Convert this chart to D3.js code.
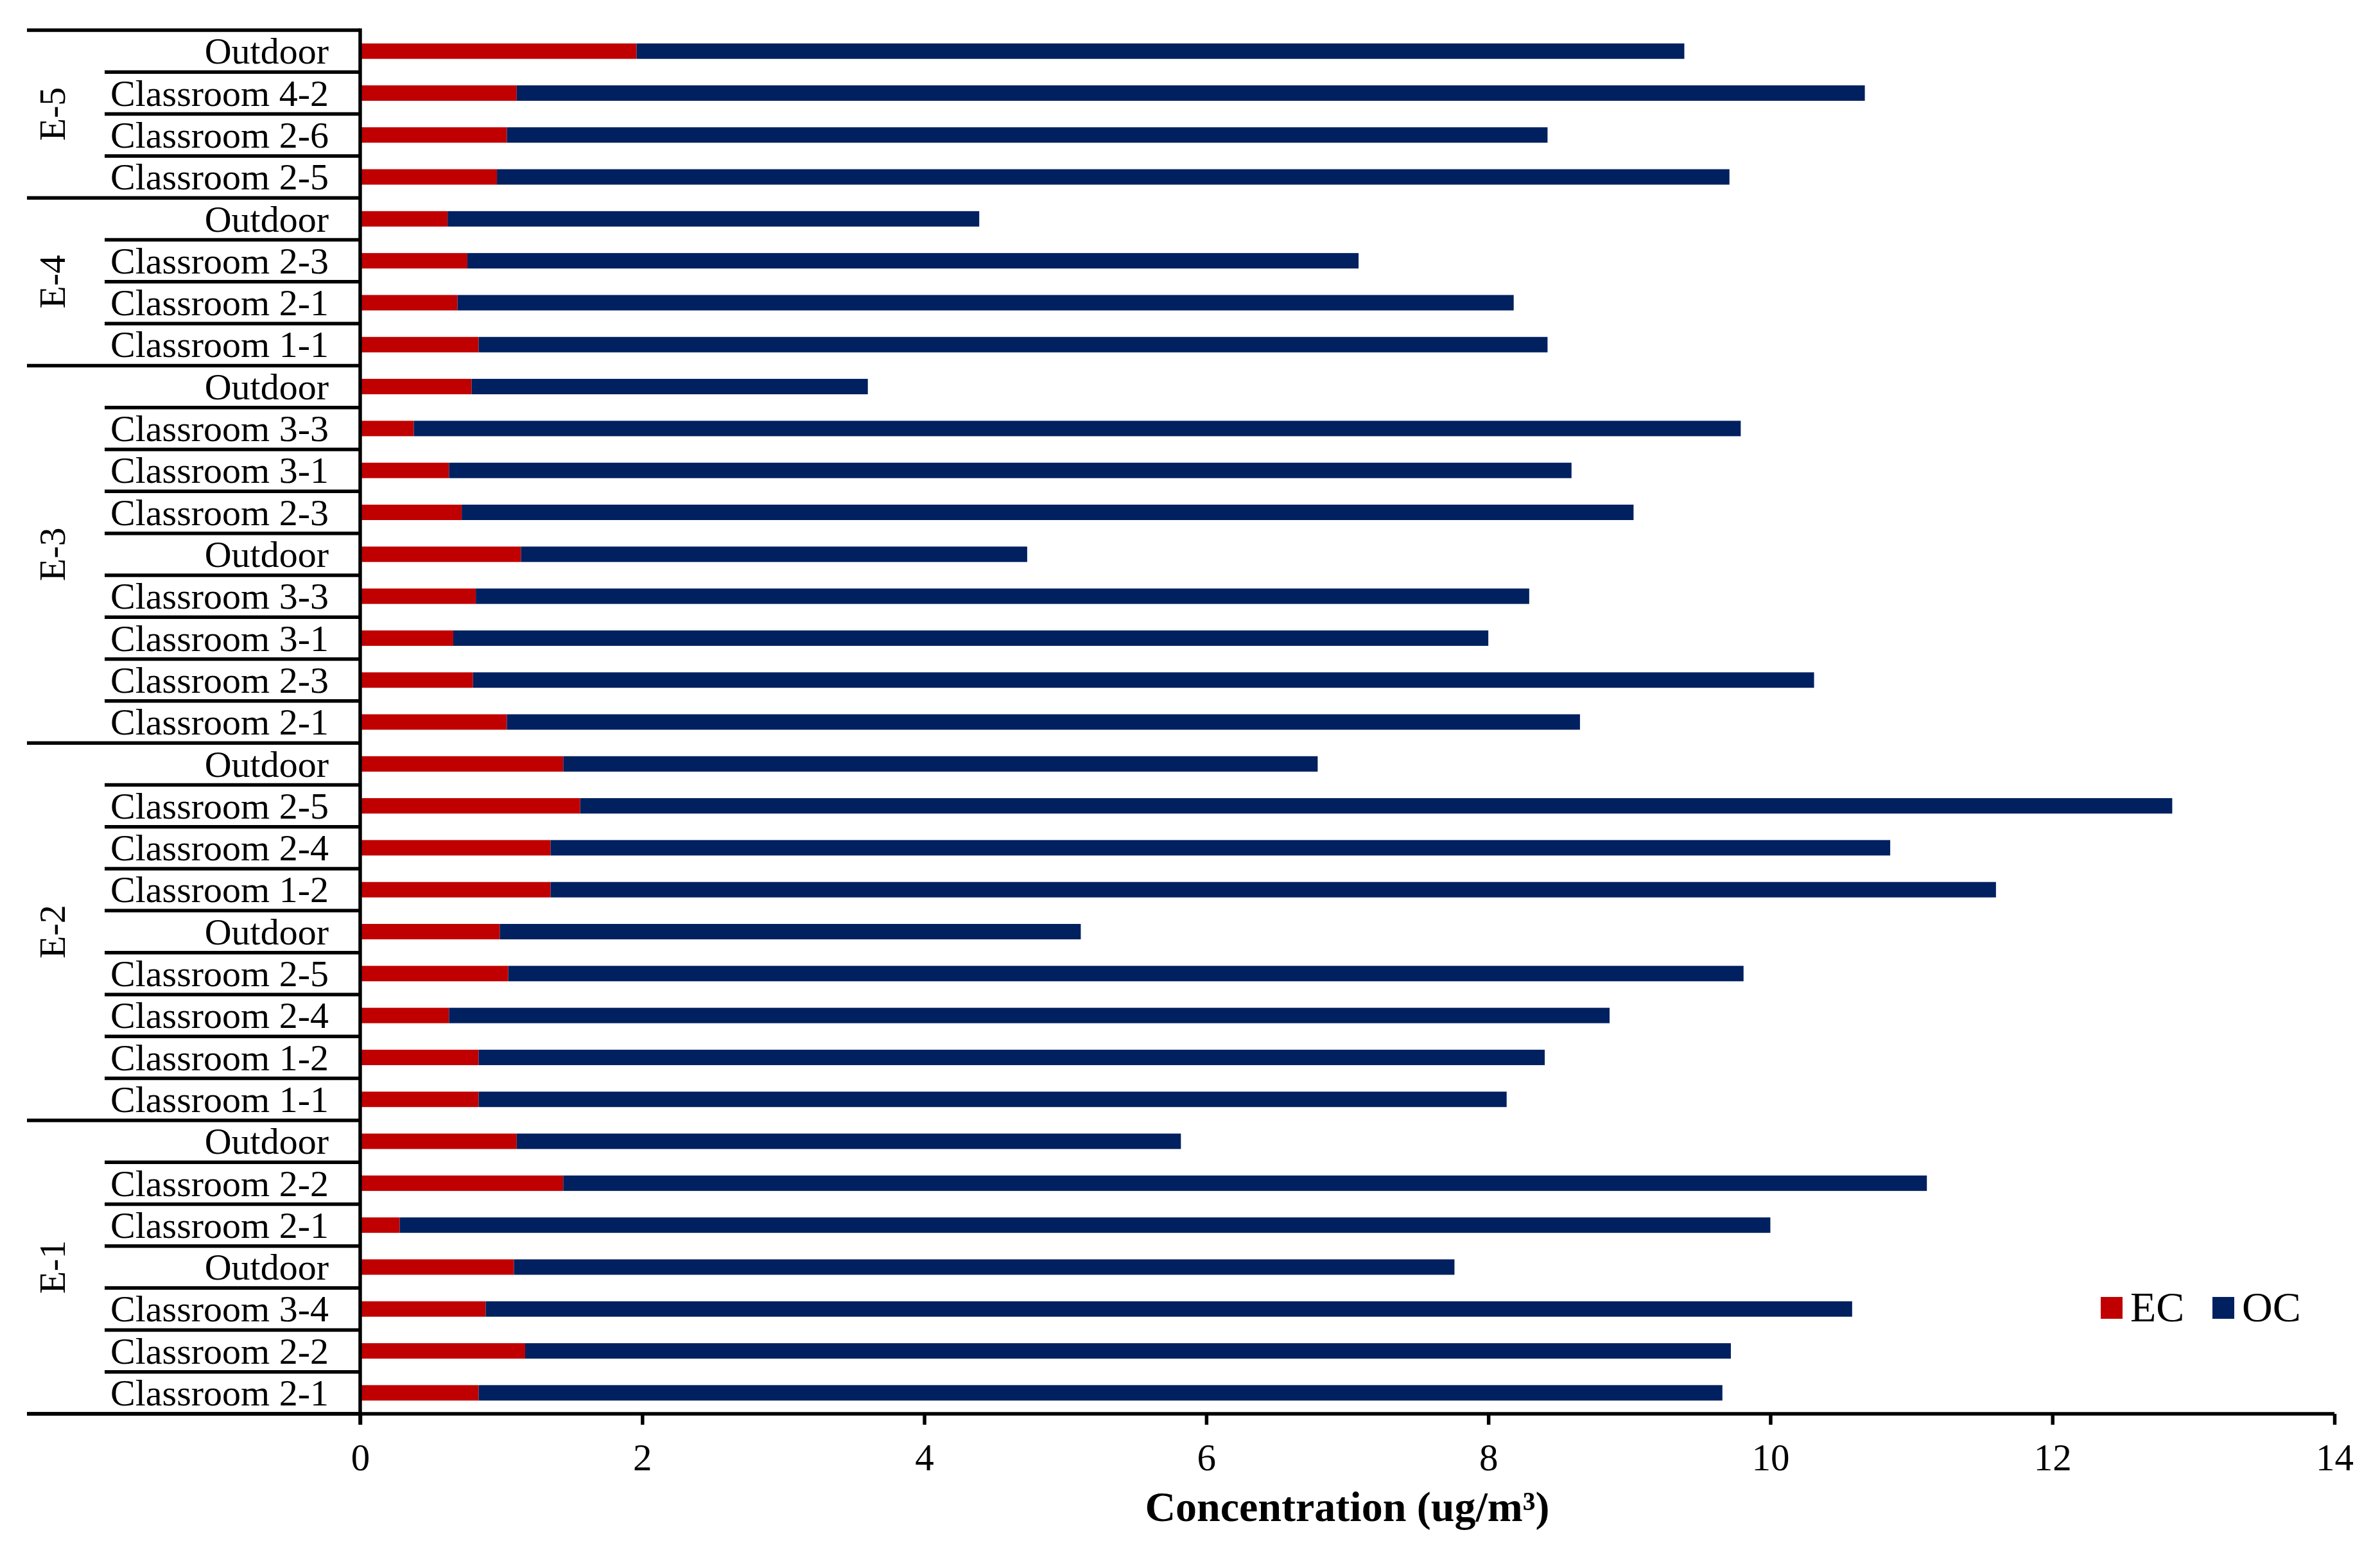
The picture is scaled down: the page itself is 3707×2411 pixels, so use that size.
<!DOCTYPE html>
<html>
<head>
<meta charset="utf-8">
<script src="https://cdn.jsdelivr.net/npm/d3@7"></script>
<style>
  html, body { margin: 0; padding: 0; background: #ffffff; }
  svg { display: block; }
  text { font-family: "Liberation Serif", "Times New Roman", serif; fill: #000; }
</style>
</head>
<body>
<svg id="chart" width="3707" height="2411"></svg>
<script>
// ---- data (bottom row first, as in the source chart) ----
const sites = [
  "Classroom 2-1", "Classroom 2-2", "Classroom 3-4", "Outdoor", "Classroom 2-1", "Classroom 2-2", "Outdoor",
  "Classroom 1-1", "Classroom 1-2", "Classroom 2-4", "Classroom 2-5", "Outdoor", "Classroom 1-2", "Classroom 2-4", "Classroom 2-5", "Outdoor",
  "Classroom 2-1", "Classroom 2-3", "Classroom 3-1", "Classroom 3-3", "Outdoor", "Classroom 2-3", "Classroom 3-1", "Classroom 3-3", "Outdoor",
  "Classroom 1-1", "Classroom 2-1", "Classroom 2-3", "Outdoor",
  "Classroom 2-5", "Classroom 2-6", "Classroom 4-2", "Outdoor"
];
const siteGroup = [
  "E-1", "E-1", "E-1", "E-1", "E-1", "E-1", "E-1",
  "E-2", "E-2", "E-2", "E-2", "E-2", "E-2", "E-2", "E-2", "E-2",
  "E-3", "E-3", "E-3", "E-3", "E-3", "E-3", "E-3", "E-3", "E-3",
  "E-4", "E-4", "E-4", "E-4",
  "E-5", "E-5", "E-5", "E-5"
];
const groups = ["E-1", "E-2", "E-3", "E-4", "E-5"];
const ecValues = [
  0.84, 1.17, 0.89, 1.09, 0.28, 1.44, 1.11,
  0.84, 0.84, 0.63, 1.05, 0.99, 1.35, 1.35, 1.56, 1.44,
  1.04, 0.80, 0.66, 0.82, 1.14, 0.72, 0.63, 0.38, 0.79,
  0.84, 0.69, 0.76, 0.62,
  0.97, 1.04, 1.11, 1.96
];
const ocValues = [
  8.82, 8.55, 9.69, 6.67, 9.72, 9.67, 4.71,
  7.29, 7.56, 8.23, 8.76, 4.12, 10.25, 9.50, 11.29, 5.35,
  7.61, 9.51, 7.34, 7.47, 3.59, 8.31, 7.96, 9.41, 2.81,
  7.58, 7.49, 6.32, 3.77,
  8.74, 7.38, 9.56, 7.43
];
const seriesNames = ["EC", "OC"];
const seriesColors = ["#C00000", "#002060"];
const xTicks = [0, 2, 4, 6, 8, 10, 12, 14];
const xTitle = "Concentration (ug/m³)";

(function () {
  // ---- layout ----
  const svg = d3.select("#chart");
  const axisX = 561;        // category axis position
  const outerLeft = 42;     // outer edge of group separator lines
  const innerLeft = 163;    // outer edge of row separator lines
  const plotTop = 47, plotBottom = 2202, plotRight = 3636;
  const lineW = 5.5;
  const fontSize = 58;

  const x = d3.scaleLinear().domain([0, 14]).range([axisX, plotRight]);
  const y = d3.scaleBand()
    .domain(d3.range(sites.length))
    .range([plotBottom, plotTop])
    .paddingInner(0.632)
    .paddingOuter(0.316);
  const step = y.step();
  const cy = i => y(i) + y.bandwidth() / 2;

  // ---- stacked bars ----
  const rows = sites.map((s, i) => ({ i, ec: ecValues[i], oc: ocValues[i] }));
  const stack = d3.stack().keys(["ec", "oc"])(rows);
  svg.append("g").selectAll("g").data(stack).join("g")
    .attr("fill", (d, k) => seriesColors[k])
    .selectAll("rect").data(d => d).join("rect")
    .attr("x", d => x(d[0]))
    .attr("y", d => y(d.data.i))
    .attr("width", d => x(d[1]) - x(d[0]))
    .attr("height", y.bandwidth());

  // ---- x axis ----
  const gx = svg.append("g").attr("transform", `translate(0,${plotBottom})`)
    .call(d3.axisBottom(x).tickValues(xTicks).tickFormat(d3.format("d"))
      .tickSize(17).tickSizeOuter(0).tickPadding(29));
  gx.select(".domain").remove();
  gx.selectAll(".tick line").attr("stroke", "#000").attr("stroke-width", lineW);
  gx.selectAll(".tick text").attr("font-family", "Liberation Serif").attr("font-size", 59).attr("fill", "#000");
  svg.append("line")
    .attr("x1", outerLeft).attr("x2", plotRight)
    .attr("y1", plotBottom).attr("y2", plotBottom)
    .attr("stroke", "#000").attr("stroke-width", lineW);

  svg.append("text")
    .attr("x", (axisX + plotRight) / 2).attr("y", 2369)
    .attr("text-anchor", "middle")
    .attr("font-size", 66).attr("font-weight", "bold")
    .text(xTitle);

  // ---- multi-level category axis ----
  const gy = svg.append("g");
  gy.append("line")
    .attr("x1", axisX).attr("x2", axisX)
    .attr("y1", plotTop - lineW / 2).attr("y2", plotBottom + 17)
    .attr("stroke", "#000").attr("stroke-width", lineW);

  const boundaries = d3.range(sites.length + 1).map(b => {
    const yy = b < sites.length ? cy(b) + step / 2 : cy(sites.length - 1) - step / 2;
    const isGroup = b === 0 || b === sites.length || siteGroup[b] !== siteGroup[b - 1];
    return { yy, isGroup };
  });
  gy.selectAll("line.sep").data(boundaries).join("line")
    .attr("class", "sep")
    .attr("x1", d => d.isGroup ? outerLeft : innerLeft)
    .attr("x2", axisX)
    .attr("y1", d => d.yy).attr("y2", d => d.yy)
    .attr("stroke", "#000").attr("stroke-width", lineW);

  gy.selectAll("text.site").data(sites).join("text")
    .attr("class", "site")
    .attr("x", 512)
    .attr("y", (d, i) => cy(i))
    .attr("dy", "0.34em")
    .attr("text-anchor", "end")
    .attr("font-size", fontSize)
    .text(d => d);

  const groupInfo = groups.map(g => {
    const idx = d3.range(sites.length).filter(i => siteGroup[i] === g);
    return { g, c: (cy(d3.min(idx)) + cy(d3.max(idx))) / 2 };
  });
  gy.selectAll("text.grp").data(groupInfo).join("text")
    .attr("class", "grp")
    .attr("transform", d => `translate(101,${d.c}) rotate(-90)`)
    .attr("text-anchor", "middle")
    .attr("font-size", fontSize)
    .text(d => d.g);

  // ---- legend ----
  const legendX = [3272, 3446];
  const lg = svg.append("g").selectAll("g").data(seriesNames).join("g")
    .attr("transform", (d, k) => `translate(${legendX[k]},2020)`);
  lg.append("rect").attr("width", 34).attr("height", 34)
    .attr("fill", (d, k) => seriesColors[k]);
  lg.append("text").attr("x", 46).attr("y", 38)
    .attr("font-size", 66).text(d => d);
})();
</script>
</body>
</html>
